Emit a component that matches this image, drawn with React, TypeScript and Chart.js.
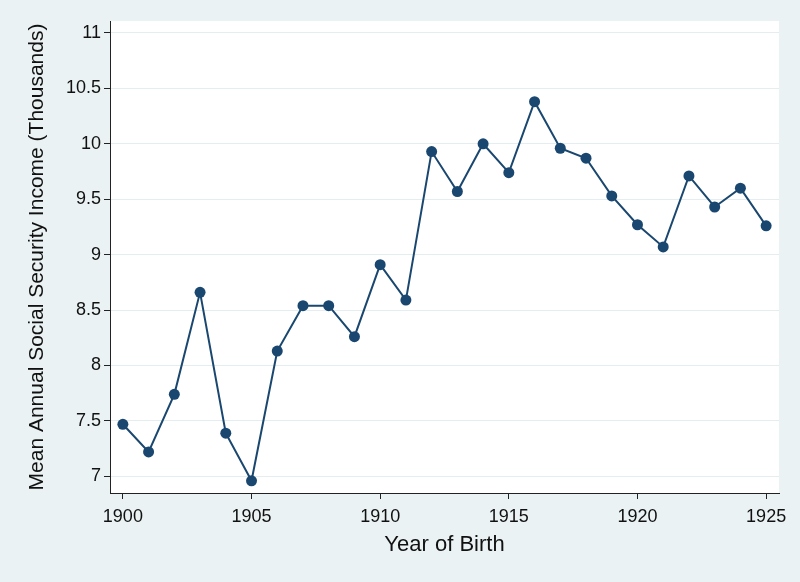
import React, { useEffect, useRef } from "react";
import { Chart, registerables } from "chart.js";

Chart.register(...registerables);

const years = [1900, 1901, 1902, 1903, 1904, 1905, 1906, 1907, 1908, 1909, 1910, 1911, 1912, 1913, 1914, 1915, 1916, 1917, 1918, 1919, 1920, 1921, 1922, 1923, 1924, 1925];
const income = [7.47, 7.22, 7.74, 8.66, 7.39, 6.96, 8.13, 8.54, 8.54, 8.26, 8.91, 8.59, 9.93, 9.57, 10.0, 9.74, 10.38, 9.96, 9.87, 9.53, 9.27, 9.07, 9.71, 9.43, 9.6, 9.26];
const xTicks = [1900, 1905, 1910, 1915, 1920, 1925];
const yTicks = [7, 7.5, 8, 8.5, 9, 9.5, 10, 10.5, 11];

const FONT = "'Liberation Sans', Arial, Helvetica, sans-serif";
const NAVY = "#1a476f";

export default function App() {
  const ref = useRef<HTMLCanvasElement | null>(null);
  useEffect(() => {
    if (!ref.current) return;
    const bgPlugin = {
      id: "plotbg",
      beforeDraw(chart: any) {
        const { ctx, chartArea } = chart;
        ctx.save();
        ctx.fillStyle = "#ffffff";
        ctx.fillRect(chartArea.left, chartArea.top, chartArea.right - chartArea.left, chartArea.bottom - chartArea.top);
        ctx.restore();
      },
    };
    const chart = new Chart(ref.current, {
      type: "line",
      data: {
        datasets: [
          {
            data: years.map((y, i) => ({ x: y, y: income[i] })),
            borderColor: NAVY,
            backgroundColor: NAVY,
            borderWidth: 2,
            pointRadius: 5.5,
            pointBorderWidth: 0,
            pointBackgroundColor: NAVY,
            tension: 0,
          },
        ],
      },
      options: {
        animation: false,
        responsive: false,
        devicePixelRatio: 1,
        layout: { padding: { top: 21, right: 21, left: 0, bottom: 0 } },
        plugins: { legend: { display: false }, tooltip: { enabled: false } },
        scales: {
          x: {
            type: "linear",
            min: 1899.5,
            max: 1925.5,
            afterBuildTicks: (s: any) => {
              s.ticks = xTicks.map((v) => ({ value: v }));
            },
            afterFit: (s: any) => {
              s.height = 89;
            },
            grid: { drawOnChartArea: false, drawTicks: true, tickLength: 6, tickColor: "#222" },
            border: { display: true, color: "#222", width: 1 },
            ticks: {
              color: "#111",
              font: { family: FONT, size: 18 },
              padding: 7,
              maxRotation: 0,
              autoSkip: false,
              callback: (v: any) => String(v),
            },
            title: {
              display: true,
              text: "Year of Birth",
              color: "#111",
              font: { family: FONT, size: 22 },
              padding: { top: 0, bottom: 24 },
            },
          },
          y: {
            type: "linear",
            min: 6.85,
            max: 11.108,
            afterBuildTicks: (s: any) => {
              s.ticks = yTicks.map((v) => ({ value: v }));
            },
            afterFit: (s: any) => {
              s.width = 110;
            },
            grid: { color: "#e4edef", lineWidth: 1, drawTicks: true, tickLength: 6, tickColor: "#222" },
            border: { display: true, color: "#222", width: 1 },
            ticks: {
              color: "#111",
              font: { family: FONT, size: 18 },
              padding: 3,
              autoSkip: false,
              callback: (v: any) => String(v),
            },
            title: {
              display: true,
              text: "Mean Annual Social Security Income (Thousands)",
              color: "#111",
              font: { family: FONT, size: 21 },
              padding: { top: 25, bottom: 0 },
            },
          },
        },
      },
      plugins: [bgPlugin],
    });
    return () => chart.destroy();
  }, []);
  return (
    <div style={{ position: "fixed", left: 0, top: 0, width: 800, height: 582, background: "#eaf2f3" }}>
      <canvas ref={ref} width={800} height={582} style={{ display: "block", width: 800, height: 582 }} />
    </div>
  );
}
